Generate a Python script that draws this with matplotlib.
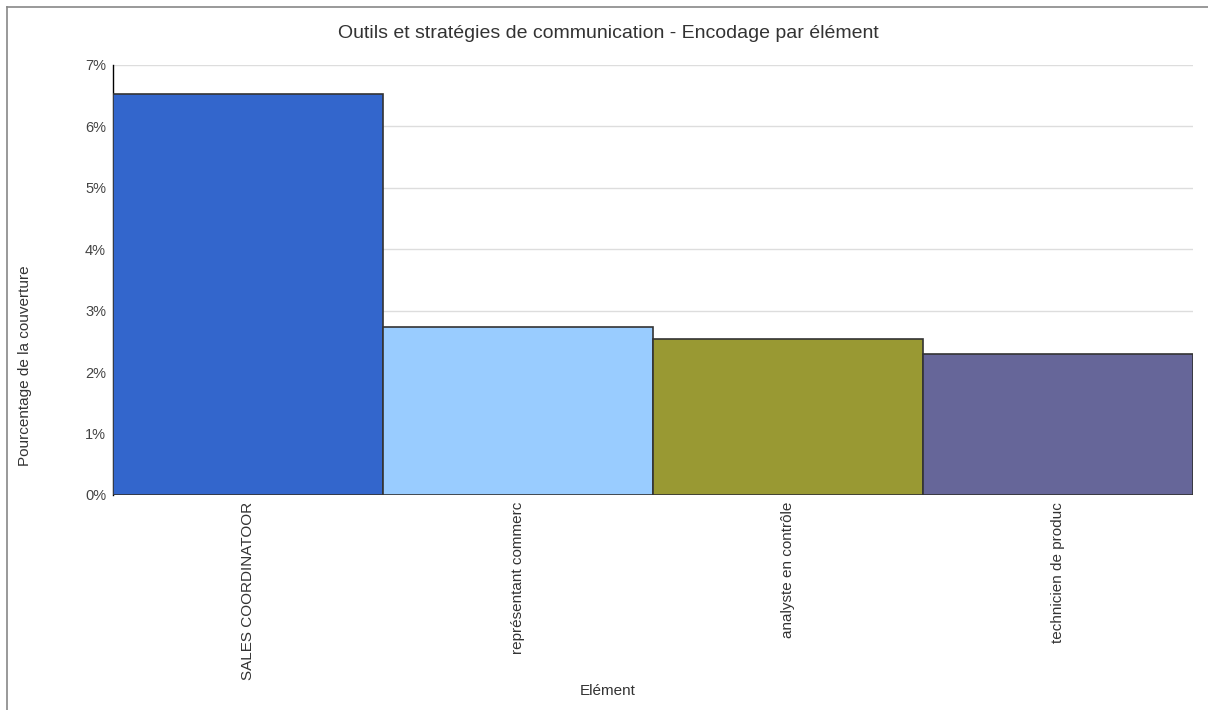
import matplotlib
matplotlib.use("Agg")
import matplotlib.pyplot as plt
from matplotlib.lines import Line2D
from matplotlib.ticker import FuncFormatter

plt.rcParams['font.family'] = ['Liberation Sans', 'DejaVu Sans']

categories = ["SALES COORDINATOOR", "représentant commerc", "analyste en contrôle", "technicien de produc"]
coverage_pct = [6.52, 2.74, 2.54, 2.29]
bar_colors = ["#3366CC", "#99CCFF", "#999933", "#666699"]
y_ticks = [0, 1, 2, 3, 4, 5, 6, 7]

W, H = 1208, 710
fig = plt.figure(figsize=(W / 100, H / 100), dpi=100)
ax = fig.add_axes([113 / W, 1 - 495 / H, (1193 - 113) / W, (495 - 65) / H])

x = list(range(len(categories)))
ax.bar(x, coverage_pct, width=1.0, color=bar_colors, edgecolor="#333333",
       linewidth=1.2, zorder=3)

ax.set_xlim(-0.5, len(categories) - 0.5)
ax.set_ylim(0, 7)
ax.set_yticks(y_ticks)
ax.yaxis.set_major_formatter(FuncFormatter(lambda v, p: f"{int(v)}%"))
ax.grid(axis="y", color="#dddddd", linewidth=1.0, zorder=0)
ax.set_axisbelow(True)

for side in ("top", "right", "bottom"):
    ax.spines[side].set_visible(False)
ax.spines["left"].set_color("#000000")
ax.spines["left"].set_linewidth(1.0)

ax.set_xticks(x)
ax.set_xticklabels(categories, rotation=90, va="top", ha="center",
                   fontsize=11, color="#333333")
ax.tick_params(axis="both", length=0)
ax.tick_params(axis="x", pad=5)
ax.tick_params(axis="y", labelsize=10.5, labelcolor="#444444", pad=5)

fig.text(608 / W, 1 - 33 / H, "Outils et stratégies de communication - Encodage par élément",
         ha="center", va="center", fontsize=14, color="#333333")
fig.text(25 / W, 1 - 366 / H, "Pourcentage de la couverture", rotation=90,
         ha="center", va="center", fontsize=11, color="#333333")
fig.text(608 / W, 1 - 691 / H, "Elément", ha="center", va="center",
         fontsize=11, color="#333333")

# outer frame along the top and left edges
fig.add_artist(Line2D([7 / W, 1.0], [1 - 7 / H, 1 - 7 / H], color="#888888", linewidth=1.2))
fig.add_artist(Line2D([7 / W, 7 / W], [1 - 7 / H, 0.0], color="#888888", linewidth=1.2))

fig.savefig("out.png", dpi=100, facecolor="white")
